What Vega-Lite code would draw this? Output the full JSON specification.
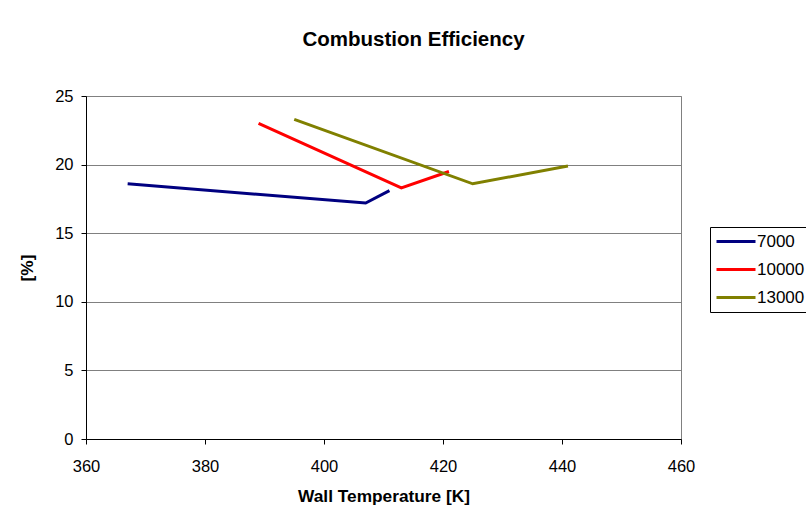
{
  "$schema": "https://vega.github.io/schema/vega-lite/v6.json",
  "width": 595,
  "height": 343,
  "autosize": "none",
  "padding": {"left": 86, "top": 96, "right": 125, "bottom": 81},
  "background": "white",
  "title": {
    "text": "Combustion Efficiency",
    "font": "Liberation Sans",
    "fontSize": 20.5,
    "fontWeight": "bold",
    "color": "black",
    "anchor": "middle",
    "dx": 30,
    "offset": 38
  },
  "data": {
    "values": [
      {"T": 367, "eff": 18.6, "series": "7000"},
      {"T": 407, "eff": 17.2, "series": "7000"},
      {"T": 411, "eff": 18.1, "series": "7000"},
      {"T": 389, "eff": 23.0, "series": "10000"},
      {"T": 413, "eff": 18.3, "series": "10000"},
      {"T": 421, "eff": 19.5, "series": "10000"},
      {"T": 395, "eff": 23.3, "series": "13000"},
      {"T": 425, "eff": 18.6, "series": "13000"},
      {"T": 441, "eff": 19.9, "series": "13000"}
    ]
  },
  "mark": {"type": "line", "strokeWidth": 3},
  "encoding": {
    "x": {
      "field": "T",
      "type": "quantitative",
      "scale": {"domain": [360, 460], "nice": false, "zero": false},
      "axis": {
        "title": "Wall Temperature [K]",
        "values": [360, 380, 400, 420, 440, 460],
        "grid": false,
        "labelFlush": false,
        "labelPadding": 14,
        "titlePadding": 13
      }
    },
    "y": {
      "field": "eff",
      "type": "quantitative",
      "scale": {"domain": [0, 25], "nice": false},
      "axis": {
        "title": "[%]",
        "values": [0, 5, 10, 15, 20, 25],
        "grid": true,
        "labelPadding": 8,
        "titlePadding": 18
      }
    },
    "color": {
      "field": "series",
      "type": "nominal",
      "sort": ["7000", "10000", "13000"],
      "scale": {"domain": ["7000", "10000", "13000"], "range": ["#000080", "#FF0000", "#808000"]},
      "legend": {
        "title": null,
        "orient": "none",
        "legendX": 624,
        "legendY": 131,
        "symbolType": "M-1.6,0H6.2",
        "symbolSize": 100,
        "symbolStrokeWidth": 3,
        "labelFontSize": 17,
        "labelFont": "Liberation Sans",
        "labelColor": "black",
        "strokeColor": "black",
        "fillColor": "white",
        "padding": 6,
        "rowPadding": 10,
        "labelOffset": 24
      }
    }
  },
  "config": {
    "font": "Liberation Sans",
    "view": {"stroke": "#808080", "strokeWidth": 1},
    "axis": {
      "labelFont": "Liberation Sans",
      "labelFontSize": 16.5,
      "labelColor": "black",
      "titleFont": "Liberation Sans",
      "titleFontSize": 17.3,
      "titleFontWeight": "bold",
      "titleColor": "black",
      "domainColor": "black",
      "tickColor": "black",
      "tickSize": 5,
      "gridColor": "#808080",
      "gridOpacity": 1
    }
  }
}
